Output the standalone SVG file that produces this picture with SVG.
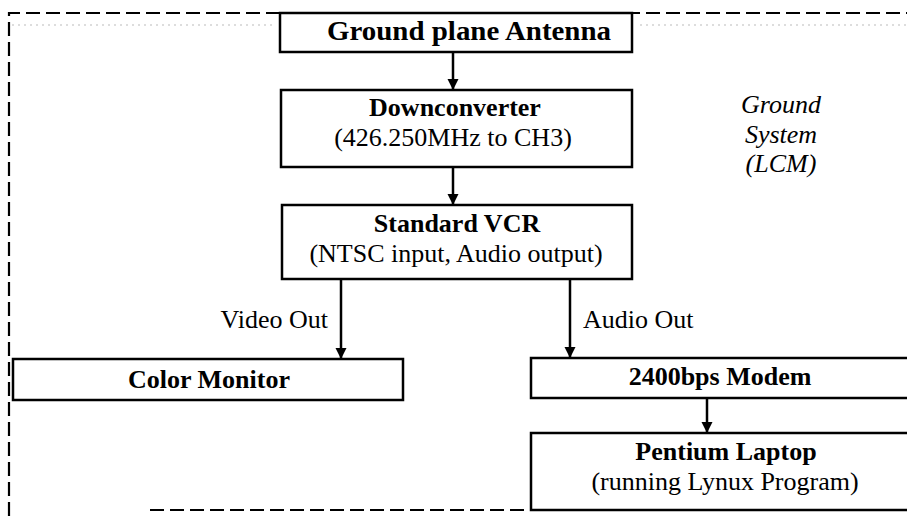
<svg xmlns="http://www.w3.org/2000/svg" width="907" height="516" viewBox="0 0 907 516">
<style>
  .box { fill: #fff; stroke: #000; stroke-width: 2.5; }
  .t { font-family: "Liberation Serif", "Times New Roman", serif; font-size: 26px; fill: #000; text-anchor: middle; }
  .b { font-weight: bold; }
  .i { font-style: italic; }
  .edge { stroke: #000; stroke-width: 2.5; fill: none; marker-end: url(#arr); }
  .frame { stroke: #000; stroke-width: 2.2; fill: none; stroke-dasharray: 14 6; }
  .faint { stroke: #bbb; stroke-width: 1; fill: none; stroke-dasharray: 2 4; }
</style>
<defs>
  <marker id="arr" markerUnits="userSpaceOnUse" markerWidth="12" markerHeight="12" refX="11" refY="6" orient="auto">
    <path d="M0,0.5 L11,6 L0,11.5 z" fill="#000"/>
  </marker>
</defs>
<rect width="907" height="516" fill="#fff"/>

<g id="frame">
  <path class="frame" d="M9,516 V13 H907"/>
  <path class="frame" d="M150,510 H907"/>
  <path class="faint" d="M12,25 H276 M640,25 H907"/>
</g>

<g id="connectors">
  <path class="edge" d="M453,52 V90"/>
  <path class="edge" d="M453,167 V205"/>
  <path class="edge" d="M341,279 V359"/>
  <path class="edge" d="M570,279 V358"/>
  <path class="edge" d="M707,398 V433"/>
</g>

<g id="antenna">
  <rect class="box" x="280" y="13" width="352" height="39"/>
  <text class="t b" x="469" y="40" style="font-size:27px" textLength="284" lengthAdjust="spacingAndGlyphs">Ground plane Antenna</text>
</g>

<g id="downconverter">
  <rect class="box" x="281" y="90" width="351" height="77"/>
  <text class="t b" x="455" y="116">Downconverter</text>
  <text class="t" x="453" y="146">(426.250MHz to CH3)</text>
</g>

<g id="vcr">
  <rect class="box" x="282" y="205" width="350" height="74"/>
  <text class="t b" x="457" y="232">Standard VCR</text>
  <text class="t" x="456" y="262">(NTSC input, Audio output)</text>
</g>

<g id="labels">
  <text class="t" x="328" y="328" style="text-anchor:end">Video Out</text>
  <text class="t" x="583" y="328" style="text-anchor:start">Audio Out</text>
</g>

<g id="monitor">
  <rect class="box" x="13" y="359" width="390" height="41"/>
  <text class="t b" x="209" y="388">Color Monitor</text>
</g>

<g id="modem">
  <rect class="box" x="531" y="358" width="390" height="40"/>
  <text class="t b" x="720" y="385">2400bps Modem</text>
</g>

<g id="laptop">
  <rect class="box" x="531" y="433" width="390" height="77"/>
  <text class="t b" x="726" y="460">Pentium Laptop</text>
  <text class="t" x="725" y="490">(running Lynux Program)</text>
</g>

<g id="ground-system">
  <text class="t i" x="781" y="113">Ground</text>
  <text class="t i" x="781" y="143">System</text>
  <text class="t i" x="781" y="172">(LCM)</text>
</g>
</svg>
